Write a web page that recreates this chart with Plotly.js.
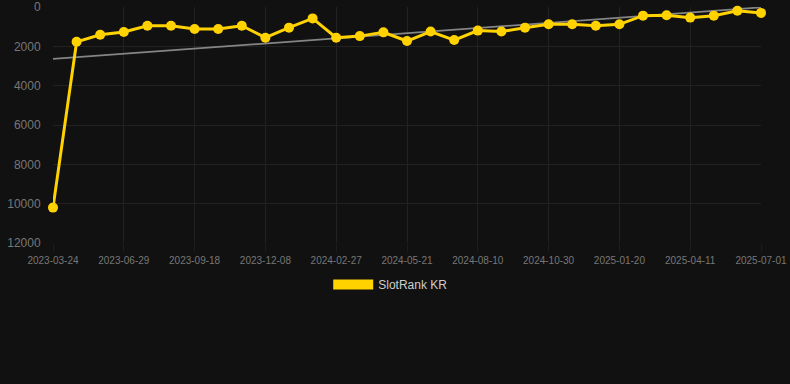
<!DOCTYPE html>
<html>
<head>
<meta charset="utf-8">
<script src="https://cdn.plot.ly/plotly-3.0.1.min.js"></script>
<style>
html,body{margin:0;padding:0;background:#111111;}
#chart{width:790px;height:384px;}
</style>
</head>
<body>
<div id="chart"></div>
<script>
const dates = ["2023-03-24","2023-04-26","2023-05-28","2023-06-29","2023-07-26","2023-08-22","2023-09-18","2023-10-15","2023-11-11","2023-12-08","2024-01-04","2024-01-31","2024-02-27","2024-03-25","2024-04-23","2024-05-21","2024-06-17","2024-07-14","2024-08-10","2024-09-06","2024-10-03","2024-10-30","2024-11-26","2024-12-24","2025-01-20","2025-02-16","2025-03-15","2025-04-11","2025-05-08","2025-06-04","2025-07-01"];
const ranks = [10200,1770,1410,1270,950,950,1120,1120,950,1560,1050,580,1560,1480,1290,1730,1250,1680,1200,1250,1050,880,880,950,880,440,420,540,440,190,300];
const tickLabels = ["2023-03-24","2023-06-29","2023-09-18","2023-12-08","2024-02-27","2024-05-21","2024-08-10","2024-10-30","2025-01-20","2025-04-11","2025-07-01"];
const yTicks = [0,2000,4000,6000,8000,10000,12000];
const yTickText = ["0","2000","4000","6000","8000","10000","12000"];
const trendX = ["2023-03-24","2025-07-01"];
const trendY = [2640,20];
const seriesName = "SlotRank KR";

const gold = "#FFD200";
const traces = [
  {x: trendX, y: trendY, type: "scatter", mode: "lines", line: {color: "#858585", width: 1.8}, showlegend: false, hoverinfo: "skip"},
  {x: dates, y: ranks, type: "scatter", mode: "lines+markers", line: {color: gold, width: 3}, marker: {color: gold, size: 10}, showlegend: false, cliponaxis: false},
  {x: [null], y: [null], type: "scatter", mode: "lines", name: seriesName, line: {color: gold, width: 10}, showlegend: true}
];
const layout = {
  width: 790, height: 384,
  paper_bgcolor: "#111111", plot_bgcolor: "#111111",
  margin: {l: 53, r: 29, t: 7, b: 141},
  font: {family: "Liberation Sans, Arial, sans-serif", color: "#777"},
  xaxis: {
    type: "category", categoryorder: "array", categoryarray: dates,
    range: [0, dates.length - 1],
    tickmode: "array", tickvals: tickLabels, ticktext: tickLabels,
    tickfont: {size: 10, color: "#777"},
    showgrid: true, gridcolor: "#222222", gridwidth: 1,
    zeroline: false, showline: false, ticks: "outside", ticklen: 8, tickcolor: "#1c1c1c"
  },
  yaxis: {
    autorange: false, range: [12000, 0],
    tickmode: "array", tickvals: yTicks, ticktext: yTickText,
    tickfont: {size: 12, color: "#777"},
    showgrid: true, gridcolor: "#222222", gridwidth: 1,
    zeroline: false, showline: false, ticks: "outside", ticklen: 9, tickcolor: "rgba(0,0,0,0)"
  },
  showlegend: true,
  legend: {orientation: "h", x: 0.477, xanchor: "center", y: -0.114, yanchor: "top", font: {size: 12, color: "#cccccc"}, itemwidth: 40, bgcolor: "rgba(0,0,0,0)"}
};
Plotly.newPlot("chart", traces, layout, {displayModeBar: false, staticPlot: true});
</script>
</body>
</html>
